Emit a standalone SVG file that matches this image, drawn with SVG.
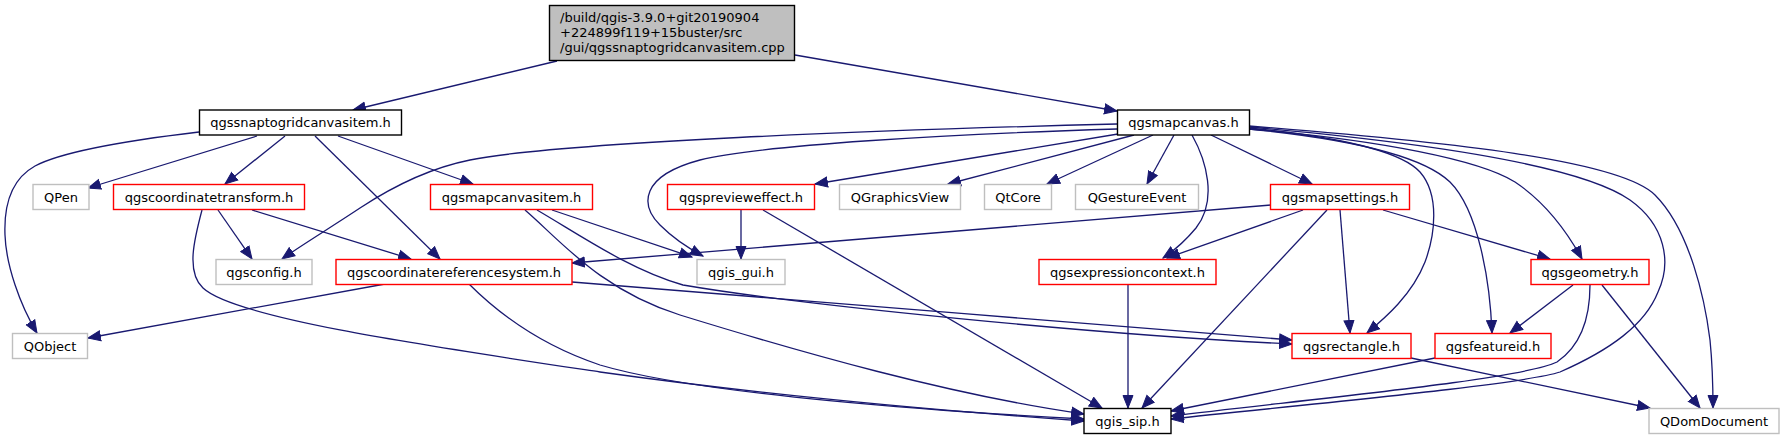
<svg xmlns="http://www.w3.org/2000/svg" width="1785" height="440" viewBox="0 0 1785 440">
<defs>
<marker id="arr" markerWidth="14" markerHeight="12" refX="13" refY="6" orient="auto" markerUnits="userSpaceOnUse">
<path d="M0.5,1 L13,6 L0.5,11 z" fill="#191970" stroke="#191970" stroke-width="1"/>
</marker>
<style>
.n rect{fill:#ffffff;stroke-width:1.4}
.red rect{stroke:#ff0000}
.gray rect{stroke:#bfbfbf}
.blk rect{stroke:#000000}
.root rect{fill:#bfbfbf;stroke:#000000;stroke-width:1.4}
text{font-family:"DejaVu Sans","Liberation Sans",sans-serif;font-size:13px;fill:#000000}
.n text{text-anchor:middle}
#edges path{fill:none;stroke:#191970;stroke-width:1.3;marker-end:url(#arr)}
</style>
</defs>
<rect x="0" y="0" width="1785" height="440" fill="#ffffff"/>
<g id="edges">
<path d="M557,61 L353,110"/>
<path d="M795,55 L1117,111"/>
<path d="M199,132 C140,139 65,150 35,166 C8,181 4,210 5,235 C6,265 20,305 37,333"/>
<path d="M257,136 L88,188"/>
<path d="M285,136 L225,184"/>
<path d="M315,136 L440,259"/>
<path d="M338,136 L473,184"/>
<path d="M218,210 L252,259"/>
<path d="M252,210 L411,259"/>
<path d="M202,210 C194,240 186,272 203,288 C235,318 420,345 600,372 C800,400 1000,415 1084,421"/>
<path d="M385,284 L88,338"/>
<path d="M572,282 C700,292 1100,325 1292,340"/>
<path d="M469,284 C500,315 540,345 600,365 C700,395 950,412 1084,419"/>
<path d="M537,210 C580,235 630,270 683,285 C800,305 1100,335 1292,344"/>
<path d="M552,210 L692,257"/>
<path d="M525,210 C560,240 600,290 680,315 C800,352 950,395 1084,414"/>
<path d="M1117,129 C950,134 760,145 700,160 C640,176 640,205 660,225 C672,237 688,248 703,256"/>
<path d="M1117,124 C880,130 560,142 470,160 C430,168 395,185 360,208 C330,228 300,246 282,259"/>
<path d="M1118,134 L815,184"/>
<path d="M1134,135 L948,184"/>
<path d="M1153,135 L1047,184"/>
<path d="M1174,135 L1147,184"/>
<path d="M1192,135 C1206,160 1218,200 1196,228 C1186,240 1175,250 1163,258"/>
<path d="M1211,135 L1312,184"/>
<path d="M1249,128 C1330,136 1400,150 1420,172 C1440,195 1435,235 1425,262 C1412,295 1385,318 1367,333"/>
<path d="M1249,129 C1360,140 1425,158 1450,182 C1478,210 1490,280 1492,333"/>
<path d="M1249,129 C1380,140 1480,160 1515,182 C1545,202 1565,228 1582,259"/>
<path d="M1249,127 C1420,142 1580,165 1630,200 C1665,225 1672,262 1658,292 C1645,325 1610,350 1560,372 C1520,385 1300,405 1171,419"/>
<path d="M1249,126 C1450,142 1620,160 1655,195 C1690,230 1705,300 1710,340 C1713,370 1713,390 1713,408"/>
<path d="M741,210 L741,259"/>
<path d="M763,210 L1102,408"/>
<path d="M1271,205 L572,263"/>
<path d="M1303,210 L1167,258"/>
<path d="M1327,210 L1142,408"/>
<path d="M1340,210 L1350,333"/>
<path d="M1383,210 L1550,259"/>
<path d="M1128,285 L1128,408"/>
<path d="M1573,285 L1510,333"/>
<path d="M1590,285 C1590,315 1582,345 1557,362 C1520,380 1300,400 1171,416"/>
<path d="M1602,285 L1700,408"/>
<path d="M1435,358 L1171,411"/>
<path d="M1411,358 L1650,408"/>
</g>
<g id="root" class="root"><rect x="549.5" y="5.5" width="245" height="55"/>
<text x="560" y="22">/build/qgis-3.9.0+git20190904</text>
<text x="560" y="37">+224899f119+15buster/src</text>
<text x="560" y="51.5">/gui/qgssnaptogridcanvasitem.cpp</text></g>
<g id="n_snaptogrid" class="n blk"><rect x="199.5" y="110" width="202" height="25"/><text x="300.5" y="127">qgssnaptogridcanvasitem.h</text></g>
<g id="n_mapcanvas" class="n blk"><rect x="1117.5" y="110" width="132" height="25"/><text x="1183.5" y="127">qgsmapcanvas.h</text></g>
<g id="n_qpen" class="n gray"><rect x="33" y="184.5" width="56" height="25"/><text x="61" y="201.5">QPen</text></g>
<g id="n_coordtransform" class="n red"><rect x="113.5" y="184.5" width="191" height="25"/><text x="209" y="201.5">qgscoordinatetransform.h</text></g>
<g id="n_mapcanvasitem" class="n red"><rect x="430.5" y="184.5" width="162" height="25"/><text x="511.5" y="201.5">qgsmapcanvasitem.h</text></g>
<g id="n_previeweffect" class="n red"><rect x="667.5" y="184.5" width="147" height="25"/><text x="741" y="201.5">qgspreview&#101;ffect.h</text></g>
<g id="n_qgraphicsview" class="n gray"><rect x="839.5" y="184.5" width="121" height="25"/><text x="900" y="201.5">QGraphicsView</text></g>
<g id="n_qtcore" class="n gray"><rect x="984.5" y="184.5" width="67" height="25"/><text x="1018" y="201.5">QtCore</text></g>
<g id="n_qgestureevent" class="n gray"><rect x="1075.5" y="184.5" width="123" height="25"/><text x="1137" y="201.5">QGestureEvent</text></g>
<g id="n_mapsettings" class="n red"><rect x="1270.5" y="184.5" width="139" height="25"/><text x="1340" y="201.5">qgsmapsettings.h</text></g>
<g id="n_qgsconfig" class="n gray"><rect x="216" y="259.5" width="96" height="25"/><text x="264" y="276.5">qgsconfig.h</text></g>
<g id="n_crs" class="n red"><rect x="336" y="259.5" width="236" height="25"/><text x="454" y="276.5">qgscoordinatereferencesystem.h</text></g>
<g id="n_qgis_gui" class="n gray"><rect x="697" y="259.5" width="88" height="25"/><text x="741" y="276.5">qgis_gui.h</text></g>
<g id="n_exprcontext" class="n red"><rect x="1039" y="259.5" width="177" height="25"/><text x="1127.5" y="276.5">qgsexpressioncontext.h</text></g>
<g id="n_geometry" class="n red"><rect x="1531" y="259.5" width="118" height="25"/><text x="1590" y="276.5">qgsgeometry.h</text></g>
<g id="n_qobject" class="n gray"><rect x="12.5" y="333.5" width="75" height="25"/><text x="50" y="350.5">QObject</text></g>
<g id="n_rectangle" class="n red"><rect x="1292" y="333.5" width="119" height="25"/><text x="1351.5" y="350.5">qgsrectangle.h</text></g>
<g id="n_featureid" class="n red"><rect x="1435" y="333.5" width="116" height="25"/><text x="1493" y="350.5">qgsfeatureid.h</text></g>
<g id="n_qgis_sip" class="n blk"><rect x="1084" y="408.5" width="87" height="25"/><text x="1127.5" y="425.5">qgis_sip.h</text></g>
<g id="n_qdomdocument" class="n gray"><rect x="1649" y="408.5" width="130" height="25"/><text x="1714" y="425.5">QDomDocument</text></g>
</svg>
